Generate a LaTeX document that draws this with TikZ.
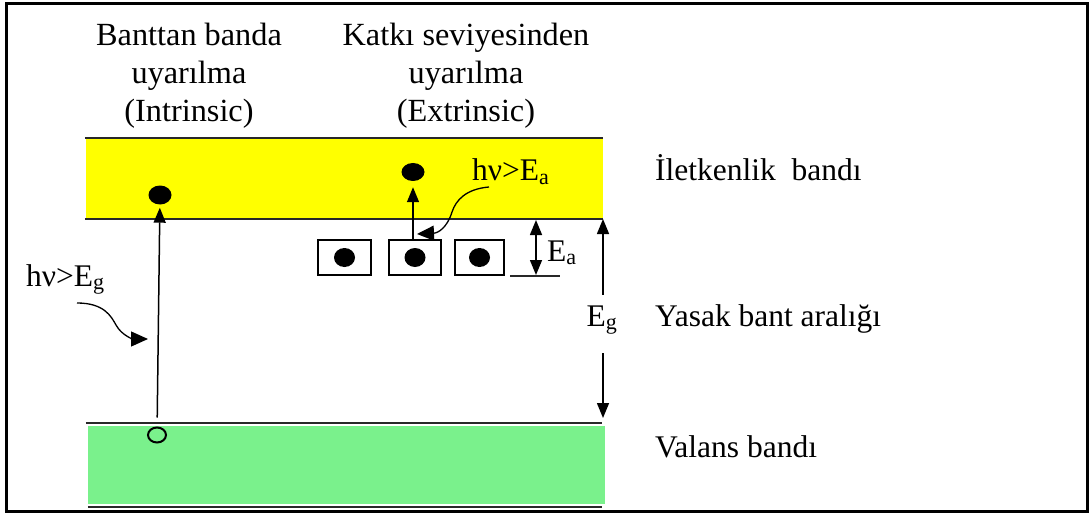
\documentclass[tikz,border=0pt]{standalone}
\usepackage{fontspec}
\setmainfont{Liberation Serif}
\usetikzlibrary{arrows.meta,shapes.geometric}
\definecolor{cbandcol}{RGB}{255,255,0}
\definecolor{vbandcol}{RGB}{122,241,140}
\definecolor{edgecol}{RGB}{40,40,40}
\tikzset{
  lbl/.style={font=\fontsize{31.5}{38}\selectfont, inner sep=0pt},
  toplbl/.style={font=\fontsize{32.3}{38}\selectfont, inner sep=0pt},
  tipA/.tip={Triangle[width=12pt,length=15pt]},
  tipB/.tip={Triangle[width=15pt,length=17pt]},
  arr/.style={line width=1.5pt, -tipA},
  darr/.style={line width=1.5pt, tipA-tipA},
  curvarr/.style={line width=1.3pt, -tipB},
  bandline/.style={line width=1.6pt, draw=edgecol},
  elec/.style={ellipse, fill=black, inner sep=0pt, minimum width=23pt, minimum height=19pt},
  hole/.style={ellipse, draw=black, line width=2pt, inner sep=0pt, minimum width=18pt, minimum height=15pt},
  donor/.style={rectangle, draw=black, line width=2.8pt, inner sep=0pt, minimum height=35pt},
  band/.style={rectangle, inner sep=0pt, draw=none}
}
\begin{document}
\begin{tikzpicture}[x=1pt,y=-1pt]
\useasboundingbox (0,0) rectangle (1090,516);
\fill[white] (0,0) rectangle (1090,516);
% frame
\draw[line width=3pt] (6,4) rectangle (1087,511);

% bands
\node[band, fill=cbandcol, minimum width=517pt, minimum height=81pt] (cb) at (344.5,178.5) {};
\node[band, fill=vbandcol, minimum width=517pt, minimum height=78pt] (vb) at (346.5,465) {};
\draw[bandline] ([xshift=-1pt]cb.north west) -- (cb.north east);
\draw[bandline] ([xshift=-1pt]cb.south west) -- (cb.south east);
\draw[bandline] ([xshift=-2pt,yshift=3pt]vb.north west) -- ([xshift=-3pt,yshift=3pt]vb.north east);
\draw[bandline] ([yshift=-3pt]vb.south west) -- ([xshift=-3pt,yshift=-3pt]vb.south east);

% top labels
\node[toplbl, anchor=base] (t1a) at (189,46) {Banttan banda};
\node[toplbl, anchor=base] (t1b) at (189,84) {uyarılma};
\node[toplbl, anchor=base] (t1c) at (189,122) {(Intrinsic)};
\node[toplbl, anchor=base] (t2a) at (466,46) {Katkı seviyesinden};
\node[toplbl, anchor=base] (t2b) at (466,84) {uyarılma};
\node[toplbl, anchor=base] (t2c) at (466,122) {(Extrinsic)};

% right labels
\node[lbl, anchor=base west] (lcb) at (655,181) {İletkenlik\ \ bandı};
\node[lbl, anchor=base west] (lgap) at (655,326) {Yasak bant aralığı};
\node[lbl, anchor=base west] (lvb) at (655,457) {Valans bandı};

% intrinsic excitation
\node[elec] (d1) at (160,195) {};
\node[hole] (h1) at (157,435) {};
\draw[arr, shorten <=9pt, shorten >=3pt] (h1) -- (d1);
\node[lbl, anchor=base west] (hg) at (26,286) {hν>E\textsubscript{g}};
\coordinate (hgs) at (77,303);
\coordinate (hge) at (148,339);
\draw[curvarr] (hgs) .. controls (104,303) and (111,316) .. (116,325)
  .. controls (122,336) and (134,339) .. (hge);

% extrinsic excitation
\node[donor, minimum width=53pt] (b1) at (344.5,257.5) {};
\node[donor, minimum width=52pt] (b2) at (415,257.5) {};
\node[donor, minimum width=49pt] (b3) at (479.5,257.5) {};
\node[elec, minimum width=21pt] (e1) at (b1.center) {};
\node[elec, minimum width=21pt] (e2) at (b2.center) {};
\node[elec, minimum width=21pt] (e3) at (b3.center) {};
\node[elec, minimum height=18pt] (d2) at (413,172) {};
\draw[arr, shorten >=6pt] (b2.north -| d2) -- (d2);
\node[lbl, anchor=base west] (ha) at (472,181) {hν>E\textsubscript{a}};
\coordinate (has) at (489,187);
\coordinate (hae) at (417,234);
\draw[curvarr] (has) .. controls (466,189) and (456,200) .. (452,212)
  .. controls (447,228) and (438,233) .. (hae);

% E_a marker
\coordinate (eat) at (536,220);
\coordinate (eab) at (536,275);
\coordinate (eal) at (510,276);
\coordinate (ear) at (560,276);
\draw[darr] (eat) -- (eab);
\draw[line width=1.3pt, draw=edgecol] (eal) -- (ear);
\node[lbl, anchor=base west] (ea) at (547,261) {E\textsubscript{a}};

% E_g marker
\coordinate (egt) at (603,219);
\coordinate (egb) at (603,418);
\node[lbl, anchor=base, text height=21pt, text depth=17pt, inner ysep=10pt] (eg) at (602,326) {E\textsubscript{g}};
\draw[arr] (eg.north -| egt) -- (egt);
\draw[arr] (eg.south -| egb) -- (egb);
\end{tikzpicture}
\end{document}
